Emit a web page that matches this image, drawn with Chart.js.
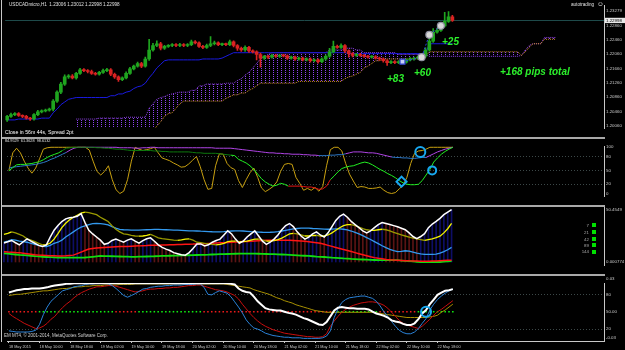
<!DOCTYPE html>
<html>
<head>
<meta charset="utf-8">
<script src="https://cdn.jsdelivr.net/npm/chart.js@4.4.1/dist/chart.umd.min.js"></script>
<style>
  body { margin: 0; background: #000; width: 625px; height: 350px; overflow: hidden; position: relative; font-family: 'Liberation Sans', Arial, sans-serif; }
  .pane { position: absolute; left: 0; width: 625px; }
  .sep { position: absolute; left: 1px; width: 604px; height: 2px; background: #a8a8a8; z-index: 3; }
  .txt { position: absolute; white-space: nowrap; line-height: 1; z-index: 4; }
  .small { font-size: 4.6px; color: #e0e0e0; }
  .pips { font: italic bold 10px 'Liberation Sans', Arial, sans-serif; color: #2cf02c; }
  .sq { position: absolute; left: 592px; width: 4px; height: 4px; background: #00e000; z-index: 4; }
</style>
</head>
<body>
<div class="pane" style="top:0;height:137px"><canvas id="c1"></canvas></div>
<div class="pane" style="top:139px;height:66px"><canvas id="c2"></canvas></div>
<div class="pane" style="top:207px;height:67px"><canvas id="c3"></canvas></div>
<div class="pane" style="top:276px;height:74px"><canvas id="c4"></canvas></div>

<div class="sep" style="top:137px"></div>
<div class="sep" style="top:205px"></div>
<div class="sep" style="top:274px"></div>
<div style="position:absolute;left:1px;top:0;width:1px;height:342px;background:#c8c8c8;z-index:3"></div>

<div class="txt small" style="left:9px;top:3px">USDCADmicro,H1&nbsp; 1.23006 1.23012 1.22998 1.22998</div>
<div class="txt small" style="left:571px;top:3px">autotrading</div>
<div class="txt" style="left:597px;top:1px;font-size:6.5px;color:#e0e0e0">☺</div>
<div class="txt small" style="left:5px;top:129.5px;font-size:5.2px;color:#fff">Close in 56m 44s, Spread 2pt</div>
<div class="txt small" style="left:5px;top:139.5px;font-size:3.8px">84.9529&nbsp; 61.3628&nbsp; 98.6132</div>
<div class="txt small" style="left:4px;top:334px;font-size:4.5px;color:#d0d0d0">EM MT4, © 2001-2014, MetaQuotes Software Corp.</div>
<div class="txt small" style="left:606px;top:277px;font-size:4.4px;color:#c8c8c8">0.03</div>
<div class="txt small" style="left:606px;top:336px;font-size:4.4px;color:#c8c8c8">-0.03</div>

<div class="txt pips" style="left:387px;top:72.5px">+83</div>
<div class="txt pips" style="left:414px;top:66.5px">+60</div>
<div class="txt pips" style="left:442px;top:35.5px">+25</div>
<div class="txt pips" style="left:500px;top:66px">+168 pips total</div>

<div id="legend"></div>

<script>
// ---- time axis ----
const timeLabels = ['18 May 2015', '18 May 10:00', '18 May 18:00', '19 May 02:00', '19 May 10:00',
  '19 May 18:00', '20 May 02:00', '20 May 10:00', '20 May 18:00', '21 May 02:00', '21 May 10:00',
  '21 May 18:00', '22 May 02:00', '22 May 10:00', '22 May 18:00'];

// ---- USDCAD H1 candles ----
const open = [
  1.20223, 1.20323, 1.20373, 1.20398, 1.20348, 1.20323, 1.20273, 1.20248, 1.20373, 1.20448,
  1.20473, 1.20498, 1.20523, 1.20748, 1.20998, 1.21223, 1.21423, 1.21448, 1.21398, 1.21523,
  1.21623, 1.21598, 1.21573, 1.21523, 1.21498, 1.21548, 1.21598, 1.21623, 1.21498, 1.21423,
  1.21348, 1.21398, 1.21523, 1.21648, 1.21723, 1.21798, 1.21723, 1.21923, 1.22173, 1.22298,
  1.22348, 1.22223, 1.22273, 1.22298, 1.22323, 1.22298, 1.22323, 1.22298, 1.22323, 1.22398,
  1.22373, 1.22273, 1.22248, 1.22298, 1.22348, 1.22373, 1.22323, 1.22336, 1.22323, 1.22398,
  1.22298, 1.22223, 1.22173, 1.22248, 1.22148, 1.22123, 1.22048, 1.21948, 1.21998, 1.21973,
  1.22023, 1.21998, 1.22023, 1.22011, 1.21948, 1.21973, 1.21923, 1.21948, 1.21898, 1.21923,
  1.21873, 1.21898, 1.21848, 1.21923, 1.21998, 1.22123, 1.22273, 1.22248, 1.22298, 1.22148,
  1.22073, 1.22023, 1.22048, 1.22023, 1.21998, 1.21973, 1.21986, 1.21948, 1.21923, 1.21873,
  1.21823, 1.21848, 1.21823, 1.21848, 1.21836, 1.21898, 1.21923, 1.21948, 1.21973, 1.21998,
  1.22173, 1.22423, 1.22673, 1.22723, 1.22848, 1.22973, 1.23098];
const close = [
  1.20323, 1.20373, 1.20398, 1.20348, 1.20323, 1.20273, 1.20248, 1.20373, 1.20448, 1.20473,
  1.20498, 1.20523, 1.20748, 1.20998, 1.21223, 1.21423, 1.21448, 1.21398, 1.21523, 1.21623,
  1.21598, 1.21573, 1.21523, 1.21498, 1.21548, 1.21598, 1.21623, 1.21498, 1.21423, 1.21348,
  1.21398, 1.21523, 1.21648, 1.21723, 1.21798, 1.21723, 1.21923, 1.22173, 1.22298, 1.22348,
  1.22223, 1.22273, 1.22298, 1.22323, 1.22298, 1.22323, 1.22298, 1.22323, 1.22398, 1.22373,
  1.22273, 1.22248, 1.22298, 1.22348, 1.22373, 1.22323, 1.22336, 1.22323, 1.22398, 1.22298,
  1.22223, 1.22173, 1.22248, 1.22148, 1.22123, 1.22048, 1.21948, 1.21998, 1.21973, 1.22023,
  1.21998, 1.22023, 1.22011, 1.21948, 1.21973, 1.21923, 1.21948, 1.21898, 1.21923, 1.21873,
  1.21898, 1.21848, 1.21923, 1.21998, 1.22123, 1.22273, 1.22248, 1.22298, 1.22148, 1.22073,
  1.22023, 1.22048, 1.22023, 1.21998, 1.21973, 1.21986, 1.21948, 1.21923, 1.21873, 1.21823,
  1.21848, 1.21823, 1.21848, 1.21836, 1.21898, 1.21923, 1.21948, 1.21973, 1.21998, 1.22173,
  1.22423, 1.22673, 1.22723, 1.22848, 1.22973, 1.23098, 1.22998];
// wick lengths beyond the body, in pips
const wickUp = [
  3, 4, 3, 3, 2, 3, 2, 3, 4, 3,  3, 3, 4, 4, 5, 6, 4, 4, 3, 4,  3, 3, 4, 3, 3, 4, 4, 3, 3, 3,
  3, 4, 4, 3, 4, 3, 5, 30, 6, 8,  4, 3, 3, 3, 3, 4, 3, 3, 5, 4,  3, 3, 4, 20, 5, 3, 3, 3, 5, 3,
  3, 3, 4, 3, 3, 3, 4, 3, 3, 3,  3, 3, 3, 3, 3, 3, 3, 3, 3, 3,  3, 3, 3, 4, 10, 15, 4, 5, 3, 3,
  3, 3, 3, 3, 3, 3, 3, 3, 3, 3,  3, 3, 3, 3, 3, 4, 3, 3, 4, 6,  15, 10, 6, 8, 25, 15, 4];
const wickDn = [
  4, 3, 3, 3, 4, 3, 4, 3, 3, 3,  3, 3, 5, 4, 4, 4, 4, 3, 4, 3,  3, 4, 3, 3, 3, 3, 3, 4, 4, 5,
  3, 3, 3, 3, 3, 4, 3, 4, 3, 3,  5, 3, 3, 3, 3, 3, 3, 3, 3, 3,  3, 4, 3, 3, 3, 3, 3, 3, 3, 4,
  6, 4, 4, 4, 3, 15, 25, 4, 4, 3,  3, 3, 3, 4, 3, 4, 3, 3, 3, 4,  3, 4, 3, 3, 3, 3, 3, 3, 5, 10,
  4, 3, 3, 3, 3, 3, 3, 4, 4, 8,  3, 3, 3, 3, 3, 3, 3, 3, 3, 3,  3, 4, 3, 3, 3, 3, 3];

// blue base line
const kijun = [
  1.20223, 1.20223, 1.20223, 1.20248, 1.20248, 1.20248, 1.20248, 1.20248, 1.20248, 1.20273,
  1.20273, 1.20273, 1.20423, 1.20523, 1.20648, 1.20723, 1.20798, 1.20823, 1.20848, 1.20848,
  1.20848, 1.20848, 1.20848, 1.20848, 1.20848, 1.20848, 1.20848, 1.20898, 1.20898, 1.20948,
  1.20948, 1.20998, 1.21023, 1.21098, 1.21148, 1.21173, 1.21248, 1.21398, 1.21523, 1.21673,
  1.21773, 1.21873, 1.21898, 1.21898, 1.21898, 1.21898, 1.21898, 1.21898, 1.21898, 1.21898,
  1.21898, 1.21923, 1.21923, 1.21923, 1.21923, 1.21923, 1.21948, 1.21998, 1.22048, 1.22098,
  1.22098, 1.22098, 1.22098, 1.22098, 1.22098, 1.22098, 1.22098, 1.22098, 1.22098, 1.22098,
  1.22098, 1.22098, 1.22098, 1.22098, 1.22098, 1.22098, 1.22098, 1.22098, 1.22098, 1.22098,
  1.22098, 1.22098, 1.22098, 1.22098, 1.22098, 1.22098, 1.22098, 1.22098, 1.22098, 1.22073,
  1.22073, 1.22073, 1.22073, 1.22073, 1.22073, 1.22073, 1.22073, 1.22073, 1.22073, 1.22073,
  1.22073, 1.22073, 1.22073, 1.22073, 1.22073, 1.22073, 1.22073, 1.22073, 1.22073, 1.22073,
  1.22348, 1.22348, 1.22348, 1.22348, 1.22348, 1.22348, 1.22348];

// cloud spans, first value sits on bar 18, last on bar 143
const CLOUD_START = 18;
const spanA = [
  1.19798, 1.19798, 1.19798, 1.19798, 1.19798, 1.19798, 1.19798, 1.19798, 1.19798, 1.19798,
  1.19798, 1.19798, 1.19798, 1.19798, 1.19798, 1.19798, 1.19798, 1.19798, 1.19798, 1.19798,
  1.19923, 1.20048, 1.20173, 1.20323, 1.20398, 1.20423, 1.20548, 1.20673,
  1.20748, 1.20748, 1.20748, 1.20748, 1.20748, 1.20748, 1.20748, 1.20748, 1.20748, 1.20748, 1.20748,
  1.20823, 1.20873, 1.20923, 1.20923, 1.20973, 1.20973, 1.21048, 1.21098, 1.21173,
  1.21248, 1.21248, 1.21248, 1.21248, 1.21248, 1.21248, 1.21248, 1.21248, 1.21248, 1.21248,
  1.21298, 1.21298, 1.21298, 1.21298, 1.21298, 1.21298, 1.21298, 1.21298, 1.21298, 1.21298, 1.21298, 1.21298,
  1.21373, 1.21423, 1.21448, 1.21498, 1.21548, 1.21673, 1.21723, 1.21798, 1.21873, 1.21873,
  1.21923, 1.21923, 1.21923, 1.21923, 1.21923, 1.21923, 1.21923, 1.21923, 1.21923, 1.21923,
  1.21998, 1.21998,
  1.22123, 1.22123, 1.22123, 1.22123, 1.22123, 1.22123, 1.22123, 1.22123, 1.22123, 1.22123, 1.22123, 1.22123,
  1.22123, 1.22123, 1.22123, 1.22123, 1.22123, 1.22123, 1.22123, 1.22123, 1.22123, 1.22123, 1.22123, 1.22123,
  1.22023, 1.22123, 1.22248, 1.22348, 1.22348, 1.22348, 1.22473, 1.22473, 1.22473, 1.22473];
const spanB = [
  1.20248, 1.20248, 1.20248, 1.20248, 1.20248, 1.20248,
  1.20273, 1.20273, 1.20273, 1.20273, 1.20273, 1.20273, 1.20273,
  1.20298, 1.20298, 1.20298, 1.20298, 1.20298, 1.20298,
  1.20548, 1.20673, 1.20798, 1.20848, 1.20873, 1.20923, 1.20948, 1.20973,
  1.20998, 1.20998, 1.20998, 1.21048, 1.21048, 1.21173, 1.21173,
  1.21223, 1.21223, 1.21223, 1.21223, 1.21223, 1.21248, 1.21248, 1.21248,
  1.21323, 1.21373, 1.21473, 1.21548, 1.21673, 1.21798, 1.21923, 1.21998, 1.22048,
  1.22098, 1.22098, 1.22098, 1.22098, 1.22098, 1.22098, 1.22098, 1.22098, 1.22098, 1.22098,
  1.22098, 1.22098, 1.22098, 1.22098, 1.22098,
  1.22173, 1.22173, 1.22173, 1.22173, 1.22223, 1.22223, 1.22223, 1.22173, 1.22173,
  1.22098, 1.22098, 1.22098, 1.22098, 1.22098, 1.22098, 1.22098, 1.22098, 1.22098,
  1.22048, 1.22048, 1.22048, 1.22048, 1.22048, 1.22048, 1.22048, 1.22048,
  1.21998, 1.21998, 1.21998, 1.21998, 1.21998, 1.21998, 1.21998, 1.21998, 1.21998, 1.21998, 1.21998, 1.21998,
  1.21998, 1.21998, 1.21998, 1.21998, 1.21998, 1.21998, 1.21998, 1.21998, 1.21998, 1.21998, 1.21998, 1.21998,
  1.22023, 1.22173, 1.22298, 1.22348, 1.22348, 1.22348, 1.22523, 1.22523, 1.22523, 1.22523];

// closed trades (bar index, price)
const tradeBar = [103, 108, 110, 113];
const tradePrice = [1.21848, 1.21973, 1.22598, 1.22848];

const priceTicks = [1.2006, 1.2046, 1.2086, 1.2126, 1.2166, 1.2206, 1.2246, 1.2286, 1.22998, 1.23279];
const priceTickText = ['1.20060', '1.20460', '1.20860', '1.21260', '1.21660', '1.22060', '1.22460', '1.22860', '1.22998', '1.23279'];
const lastPrice = 1.22998;

// ---- window 2: oscillator (0..100) ----
const oscYellow = [
  50, 88, 98, 88, 70, 55, 44, 55, 75, 96,  99, 100, 100, 100, 100, 100, 100, 100, 100, 100,
  100, 94, 70, 48, 40, 48, 60, 30, 8, 0,  5, 30, 70, 100, 96, 93, 95, 97, 100, 88,
  77, 74, 71, 66, 62, 57, 58, 64, 72, 80,  58, 30, 9, 11, 60, 86, 85, 65, 56, 52,
  28, 13, 30, 45, 55, 35, 12, 4, 9, 15,  25, 48, 63, 65, 63, 35, 22, 7, 11, 7,
  13, 5, 15, 60, 95, 100, 100, 92, 65, 42,  27, 13, 15, 14, 11, 11, 12, 14, 7, 2,
  0, 2, 10, 18, 35, 65, 87, 92, 93, 96,  100, 100, 100, 100, 100, 100, 100];
const oscGreen = [
  49, 56, 62, 63, 63, 64, 65, 67, 69, 73,  78, 82, 85, 88, 93, 98, 99, 100, 100, 100,
  100, 100, 100, 99, 99, 98, 98, 97, 96, 96,  95, 94, 93, 93, 93, 93, 93, 93, 92, 92,
  91, 91, 90, 90, 90, 90, 90, 90, 89, 88,  88, 87, 87, 87, 87, 86, 85, 84, 83, 82,
  74, 70, 66, 60, 52, 42, 32, 25, 20, 16,  18, 22, 20, 16, 16, 16, 16, 15, 14, 14,
  12, 9, 10, 16, 30, 38, 47, 54, 57, 59,  60, 63, 66, 68, 66, 62, 57, 52, 48, 43,
  39, 34, 28, 23, 20, 19, 19, 20, 28, 40,  52, 68, 77, 85, 91, 96, 100];
const oscPurple = [
  55, 57, 58, 59, 60, 61, 62, 63, 65, 67,  70, 74, 77, 81, 85, 89, 94, 98, 100, 100,
  100, 100, 100, 100, 100, 100, 100, 100, 100, 99,  99, 99, 99, 98, 98, 99, 99, 100, 100, 99,
  99, 99, 99, 99, 99, 99, 99, 99, 99, 99,  99, 99, 99, 99, 98, 98, 98, 98, 98, 97,
  96, 95, 94, 93, 92, 91, 90, 89, 88, 88,  87, 87, 86, 86, 85, 85, 85, 84, 84, 83,
  83, 82, 82, 82, 83, 83, 84, 84, 86, 88,  90, 90, 90, 89, 88, 88, 87, 85, 83, 81,
  79, 78, 78, 77, 77, 76, 76, 77, 78, 78,  82, 86, 90, 93, 96, 98, 100];
const oscMarkBar = [107.5, 110.6, 102.6];
const oscMarkVal = [89.7, 50, 25.7];

// ---- window 3: moving averages 7/21/42/89/144 ----
const maPeriods = [7, 21, 42, 89, 144];
const ma7 = [
  18.2, 19.5, 20.7, 18.5, 16.5, 19.5, 22.3, 20, 18, 16,  14.9, 16.5, 24, 30.6, 35, 38.9, 41.5, 42.6, 43, 44,
  46.5, 38, 30.5, 27, 24, 21, 17, 18, 20.7, 22,  20.5, 19, 21, 22.3, 20, 18.2, 20.5, 22.3, 23.2, 20,
  16.5, 14, 12.4, 11, 9, 8, 7, 6.6, 9, 13,  17.4, 17.4, 15.5, 16.5, 19, 20.7, 22, 26, 30, 27,
  22, 18, 20, 24, 27, 30, 25, 20, 17, 19,  22, 26, 31, 35, 37, 34, 29, 25, 22, 24,
  27, 29, 26, 24, 28, 34, 40, 44, 46, 43,  39, 36, 33, 30, 28, 30, 33, 36, 38, 37,
  36, 35, 33.9, 32.5, 31, 28, 24.5, 22.5, 24.5, 27.3,  33, 36.5, 39, 42, 45.5, 48, 50.45];
const ma21 = [
  26.5, 27.5, 29, 28, 26.5, 25, 22.3, 21, 19.5, 18,  16.5, 16.5, 18.2, 22, 27.3, 33, 37.2, 40.5, 43, 45,
  47.1, 48, 47.5, 46.5, 45.5, 43, 41, 38.9, 35, 31.4,  29, 27, 26.5, 25.5, 25, 24.8, 25, 25.5, 26.5, 25,
  23.2, 22.5, 22, 21.5, 21, 20.7, 21.2, 22, 22.3, 21,  19, 18.5, 18, 17.4, 17, 16.5, 17, 18, 19.5, 20,
  20, 19.5, 19.5, 20, 21, 22, 22, 21, 20, 20,  20.5, 21.5, 23, 25, 27, 27.5, 27, 26, 25, 25,
  25.5, 25.5, 25, 25, 26, 28, 30.5, 33, 35, 36,  36, 35, 33.5, 32, 31, 30.5, 30.5, 31, 31.5, 31,
  30, 28.5, 27.3, 26, 25, 24, 23, 22.3, 21.5, 20.7,  21.5, 22.3, 23.5, 24.8, 28, 32, 37.2];
const ma42 = [
  19, 20, 21.5, 21, 20, 19.5, 19, 18, 17, 16,  15, 14.9, 16, 18, 19, 21, 24, 26.5, 29, 31.5,
  33.5, 34.7, 36, 37, 37.2, 37, 36.5, 35.6, 34, 32.5,  31.4, 31, 30.8, 30.6, 30.6, 30.6, 30.8, 31, 31.2, 31.4,
  31.4, 31.2, 31, 30.8, 30.6, 30.6, 30.4, 30.2, 30, 30,  29.8, 29.6, 29.5, 29.3, 29.1, 29, 29, 29.2, 29.5, 29.8,
  30, 30, 29.8, 29.5, 29.2, 29, 28.8, 28.6, 28.5, 28.6,  28.8, 29.2, 29.8, 30.5, 31.2, 31.8, 32.2, 32.5, 32.6, 32.5,
  32.2, 32, 31.8, 31.6, 31.5, 31.6, 31.8, 31.8, 31.5, 30.8,  29.8, 28.5, 27, 25.3, 23.5, 21.6, 19.6, 17.6, 15.6, 13.8,
  12.2, 11, 9.9, 10.3, 10.8, 10.5, 9.5, 8.5, 7.8, 7.4,  7.4, 7.4, 7.6, 8.5, 10, 11.8, 14];
const ma89 = [
  9.9, 9.5, 9.3, 9.1, 9, 8.5, 8, 7.5, 7, 6.6,  6.4, 6.2, 6, 5.9, 5.8, 5.8, 6, 6.3, 6.6, 8,
  9.5, 11, 12.4, 13, 13.4, 13.7, 14, 14.2, 14.4, 14.6,  14.8, 14.9, 15, 15.2, 15.4, 15.5, 15.7, 15.8, 16, 16.1,
  16.2, 16.3, 16.4, 16.5, 16.6, 16.8, 16.9, 17, 17.1, 17.2,  17.4, 17.5, 17.6, 17.8, 18, 18.2, 18.4, 18.6, 18.8, 19,
  19.2, 19.4, 19.6, 19.8, 20, 20.2, 20.4, 20.6, 20.8, 21,  21, 21, 21, 21, 20.8, 20.6, 20.4, 20.2, 20, 19.5,
  19, 18.5, 18, 17, 16, 15, 14, 13, 12, 11,  10, 9, 8, 7, 6, 5, 4.2, 3.5, 3, 2.5,
  2.1, 1.8, 1.7, 1.5, 1.3, 1.1, 1, 0.9, 0.8, 0.8,  0.8, 0.9, 1, 1.2, 1.4, 1.6, 1.7];
const ma144 = [
  8.3, 8, 7.6, 7.2, 6.8, 6.6, 6.3, 6, 5.6, 5.3,  5, 4.8, 4.6, 4.4, 4.2, 4.1, 4.1, 4.1, 4.1, 4.1,
  4.1, 4.3, 4.6, 5, 5.4, 5.8, 5.7, 5.6, 5.5, 5.4,  5.3, 5.2, 5.1, 5, 5, 5.1, 5.2, 5.3, 5.4, 5.5,
  5.7, 5.8, 5.9, 6, 6.1, 6.2, 6.3, 6.4, 6.5, 6.6,  6.7, 6.8, 6.9, 7, 7.2, 7.4, 7.5, 7.6, 7.7, 7.8,
  7.9, 8, 8, 8, 8, 8, 7.9, 7.8, 7.7, 7.6,  7.5, 7.4, 7.2, 7, 6.8, 6.6, 6.4, 6.2, 6, 5.8,
  5.5, 5.2, 5, 4.8, 4.5, 4.2, 4, 3.8, 3.5, 3.3,  3, 2.8, 2.6, 2.4, 2.2, 2, 1.9, 1.8, 1.8, 1.7,
  1.7, 1.7, 1.7, 1.4, 1.1, 0.8, 0.5, 0.2, 0, 0,  0, 0, 0, 0, 0.3, 0.6, 0.8];

// ---- window 4: RSI style block (0..100) ----
const w4White = [
  83, 85, 87, 88, 89, 89, 90, 90, 90, 91,  92, 94, 95, 96, 97, 98, 98, 99, 99, 99,
  99, 99, 99, 99, 99, 99, 99, 99, 99, 99,  99, 99, 99, 99, 99, 99, 99, 99, 99, 99,
  99, 99, 99, 99, 99, 99, 99, 99, 99, 99,  99, 99, 99, 99, 99, 99, 99, 99, 98, 97,
  90, 86, 84, 83, 76, 68, 62, 56, 54, 53,  52, 52, 50, 48, 47, 45, 42, 39, 37, 34,
  31, 28, 27, 32, 42, 52, 57, 58, 57, 56,  56, 55, 55, 55, 54, 50, 47, 45, 43, 40,
  35, 33, 32, 29, 27, 27, 30, 37, 47, 53,  63, 71, 79, 83, 86, 87, 89];
const w4Olive = [
  78, 79, 80, 80, 81, 82, 83, 84, 85, 86,  86, 87, 88, 89, 90, 90, 91, 92, 93, 93,
  94, 94, 95, 95, 95, 96, 96, 96, 96, 97,  97, 97, 97, 98, 98, 98, 98, 98, 98, 98,
  98, 98, 98, 98, 98, 98, 98, 98, 98, 98,  98, 98, 98, 98, 98, 98, 98, 97, 96, 95,
  94, 93, 92, 91, 88, 86, 84, 82, 80, 77,  74, 72, 69, 67, 65, 62, 60, 58, 56, 54,
  52, 51, 50, 49, 49, 49, 49, 49, 49, 49,  49, 49, 49, 49, 49, 49, 48, 47, 46, 45,
  44, 43, 42, 41, 40, 40, 40, 40, 40, 40,  41, 42, 44, 49, 53, 58, 63];
const w4Blue = [
  17, 16, 15, 15, 15, 15, 16, 18, 28, 45,  58, 68, 74, 80, 86, 88, 90, 93, 94, 95,
  97, 98, 98, 99, 99, 99, 98, 95, 90, 84,  78, 75, 78, 81, 85, 89, 90, 92, 93, 94,
  94, 95, 95, 96, 96, 96, 97, 97, 97, 98,  98, 92, 80, 79, 83, 86, 84, 82, 76, 67,
  58, 48, 36, 28, 22, 20, 17, 13, 11, 9,  8, 7, 6, 6, 5, 5, 5, 4, 4, 4,
  4, 4, 5, 8, 17, 40, 55, 66, 71, 74,  75, 76, 77, 77, 75, 73, 68, 60, 50, 42,
  33, 25, 18, 14, 12, 12, 15, 21, 30, 38,  53, 63, 71, 77, 82, 86, 89];
const w4Red = [
  47, 42, 38, 34, 30, 27, 24, 21, 22, 25,  30, 37, 42, 50, 57, 63, 68, 74, 79, 83,
  86, 89, 91, 93, 93, 94, 95, 95, 94, 92,  90, 88, 86, 84, 85, 86, 88, 89, 89, 90,
  90, 91, 91, 92, 92, 93, 94, 95, 95, 96,  96, 94, 92, 90, 88, 87, 86, 84, 81, 78,
  72, 63, 55, 47, 40, 34, 29, 25, 22, 19,  17, 15, 13, 12, 11, 10, 9, 8, 7, 7,
  6, 6, 7, 12, 25, 34, 42, 49, 54, 58,  61, 63, 65, 66, 67, 67, 66, 64, 61, 56,
  49, 42, 35, 30, 27, 25, 23, 21, 25, 31,  37, 44, 50, 54, 59, 64, 69];
const w4Level = 50;
const w4MarkBar = 109;

// ---------------------------------------------------------------
Chart.defaults.font.family = "'Liberation Sans', Arial, sans-serif";
Chart.defaults.font.size = 4.4;
Chart.defaults.color = '#c8c8c8';

const PIP = 0.0001;
const xy = (arr, start = 0) => arr.map((v, i) => v == null ? null : { x: i + start, y: v });
const pairs = (xs, ys) => xs.map((x, i) => ({ x, y: ys[i] }));

function xScale(show) {
  return {
    type: 'linear', min: -0.5, max: 155.5, display: show, offset: false,
    afterBuildTicks: s => { s.ticks = timeLabels.map((t, k) => ({ value: k * 8 })); },
    afterFit: s => { s.height = 9; s.paddingLeft = 0; s.paddingRight = 0; },
    ticks: { autoSkip: false, maxRotation: 0, align: 'start', padding: 1.5, color: '#c8c8c8',
      font: { size: 3.8 }, callback: v => timeLabels[Math.round(v / 8)] },
    grid: { drawOnChartArea: false, offset: false, tickLength: 2, color: '#c8c8c8' },
    border: { display: true, color: '#c8c8c8' }
  };
}

function yScale(min, max, values, texts, gridAt, dash) {
  return {
    position: 'right', min, max,
    afterBuildTicks: s => { s.ticks = values.map(v => ({ value: v })); },
    afterFit: s => { s.width = 21; s.paddingTop = 0; s.paddingBottom = 0; },
    ticks: { autoSkip: false, padding: 2, color: '#c8c8c8', callback: (v, i) => texts[i] },
    grid: { drawTicks: false, lineWidth: 1,
      color: c => gridAt.includes(c.tick && c.tick.value) ? gridAt.color : 'transparent' },
    border: { display: true, color: '#c8c8c8', dash: dash || [] }
  };
}

function baseOptions(scales) {
  return {
    responsive: true, maintainAspectRatio: false, animation: false, devicePixelRatio: 1,
    layout: { padding: { left: 2, right: 0, top: 0, bottom: 0 } },
    plugins: { legend: { display: false }, tooltip: { enabled: false } },
    scales
  };
}

// dotted vertical hatch used inside the cloud
function hatchPattern(color) {
  const c = document.createElement('canvas');
  c.width = 4; c.height = 2;
  const g = c.getContext('2d');
  g.fillStyle = color;
  g.fillRect(1, 0, 1, 1);
  return g.createPattern(c, 'repeat');
}

function lineSet(data, color, width, order, extra) {
  return Object.assign({ type: 'line', data, borderColor: color, borderWidth: width,
    pointRadius: 0, fill: false, tension: 0, order }, extra || {});
}

// ---- pane 1: price ----
const candleColor = open.map((o, i) => close[i] >= o ? '#1fa51f' : '#d92222');
const bodies = open.map((o, i) => ({ x: i, y: [o, close[i]] }));
const wicks = open.map((o, i) => ({ x: i,
  y: [Math.min(o, close[i]) - wickDn[i] * PIP, Math.max(o, close[i]) + wickUp[i] * PIP] }));

const priceGrid = [lastPrice]; priceGrid.color = '#1e4a4a';
const lastIdx = priceTicks.indexOf(lastPrice);
const y1 = yScale(1.19998, 1.23423, priceTicks, priceTickText, priceGrid);
y1.ticks.showLabelBackdrop = c => c.index === lastIdx;
y1.ticks.backdropColor = '#e8e8e8';
y1.ticks.backdropPadding = { left: 1, right: 4, top: 0, bottom: 0 };
y1.ticks.color = c => c.index === lastIdx ? '#000' : '#c8c8c8';

new Chart(document.getElementById('c1'), {
  type: 'bar',
  data: { datasets: [
    lineSet(pairs(tradeBar, tradePrice), 'transparent', 0, 0, { showLine: false,
      pointRadius: 3.5, pointStyle: ['rect', 'circle', 'circle', 'circle'],
      pointBackgroundColor: ['#c8d0f8', '#d8d8d8', '#d8d8d8', '#d8d8d8'],
      pointBorderColor: ['#3040d0', '#9090a0', '#9090a0', '#9090a0'], pointBorderWidth: 1.2 }),
    lineSet(pairs(tradeBar, tradePrice), '#2c40e8', 1, 1, { borderDash: [2, 2] }),
    { type: 'bar', data: bodies, backgroundColor: candleColor, barThickness: 3, minBarLength: 1,
      grouped: false, order: 2 },
    { type: 'bar', data: wicks, backgroundColor: candleColor, barThickness: 1, grouped: false, order: 3 },
    lineSet(xy(kijun), '#1a1ae0', 1, 4),
    lineSet(xy(spanA, CLOUD_START), '#d09028', 1, 5,
      { borderDash: [1, 1], fill: '+1', backgroundColor: hatchPattern('#8c42f0') }),
    lineSet(xy(spanB, CLOUD_START), '#9040e8', 1, 6, { borderDash: [1, 1] })
  ] },
  options: baseOptions({ x: xScale(false), y: y1 })
});

// ---- pane 2: oscillator ----
const levelGrid = [20, 50, 80]; levelGrid.color = '#3c4848';
const greenSeg = i => i < 14 ? '#22f022' : i < 58 ? '#0d7a0d' : (i >= 73 && i < 84) ? '#e81414' : '#22f022';
const purpleSeg = i => (i < 15 || (i >= 81 && i < 88) || (i >= 100 && i < 109)) ? '#2c78c8' : '#b044e6';

new Chart(document.getElementById('c2'), {
  type: 'line',
  data: { datasets: [
    lineSet(pairs(oscMarkBar, oscMarkVal), 'transparent', 0, 0, { showLine: false,
      pointRadius: [5, 4, 5], pointStyle: ['circle', 'circle', 'rectRot'],
      pointBackgroundColor: 'transparent', pointBorderColor: '#18a8f0', pointBorderWidth: 2 }),
    lineSet(xy(oscYellow), '#c8a010', 1, 3),
    lineSet(xy(oscGreen), '#22f022', 1, 1, { segment: { borderColor: c => greenSeg(c.p0DataIndex) } }),
    lineSet(xy(oscPurple), '#b044e6', 1, 2, { segment: { borderColor: c => purpleSeg(c.p0DataIndex) } })
  ] },
  options: baseOptions({ x: xScale(false),
    y: yScale(-5.4, 102.8, [0, 20, 50, 80, 100], ['0', '20', '50', '80', '100'], levelGrid, [1, 2]) })
});

// ---- pane 3: moving averages with histogram ----
const histColor = ma7.map((v, i) => i > 0 && v < ma7[i - 1] ? '#5a1414' : '#0e0e66');
const noGrid = []; noGrid.color = 'transparent';
new Chart(document.getElementById('c3'), {
  type: 'bar',
  data: { datasets: [
    lineSet(xy(ma7), '#ffffff', 1.5, 0),
    lineSet(xy(ma21), '#ffff00', 1.3, 1,
      { segment: { borderColor: c => c.p1.parsed.y < c.p0.parsed.y ? '#9a9a00' : '#f4f400' } }),
    lineSet(xy(ma42), '#3399ee', 1.3, 2),
    lineSet(xy(ma89), '#ff1414', 1.5, 3),
    lineSet(xy(ma144), '#10dd10', 1.8, 4),
    { type: 'bar', data: xy(ma7), backgroundColor: histColor, barThickness: 1, grouped: false, order: 5 }
  ] },
  options: baseOptions({ x: xScale(false),
    y: yScale(-2.9, 52.9, [0.000774, 50.4549], ['0.000774', '50.4549'], noGrid) })
});

// ---- pane 4 ----
const sigColor = w4Blue.map((b, i) => b >= w4Red[i] ? '#10ee10' : '#ee1a1a');
const w4Grid = [20, 80]; w4Grid.color = '#3c4848';
new Chart(document.getElementById('c4'), {
  type: 'line',
  data: { datasets: [
    lineSet([{ x: w4MarkBar, y: w4Level }], 'transparent', 0, 0, { showLine: false,
      pointRadius: 5, pointBackgroundColor: 'transparent', pointBorderColor: '#18a8f0', pointBorderWidth: 2 }),
    lineSet(xy(w4White), '#ffffff', 2, 1),
    lineSet(xy(w4Blue), '#2a82d8', 1, 2),
    lineSet(xy(w4Red), '#c80e0e', 1, 3),
    lineSet(xy(w4Olive), '#a89000', 1, 4),
    lineSet(w4Blue.map((b, i) => ({ x: i, y: w4Level })), 'transparent', 0, 5, { showLine: false,
      pointRadius: 1.1, pointStyle: 'rect', pointBackgroundColor: sigColor, pointBorderWidth: 0 })
  ] },
  options: baseOptions({ x: xScale(true),
    y: yScale(-0.5, 99.5, [20, 50, 80], ['20', '50.00', '80'], w4Grid, [1, 2]) })
});

// legend of pane 3
const legend = document.getElementById('legend');
const legendTop = [223.5, 230.5, 237.5, 243.5, 250];
maPeriods.forEach((p, k) => {
  const t = document.createElement('div');
  t.className = 'txt small';
  t.style.cssText = `right:36px;top:${legendTop[k]}px;color:#a8a8a8;font-size:4.4px;text-align:right`;
  t.textContent = p;
  legend.appendChild(t);
  const s = document.createElement('div');
  s.className = 'sq';
  s.style.top = (legendTop[k] - 0.3) + 'px';
  legend.appendChild(s);
});
</script>
</body>
</html>
